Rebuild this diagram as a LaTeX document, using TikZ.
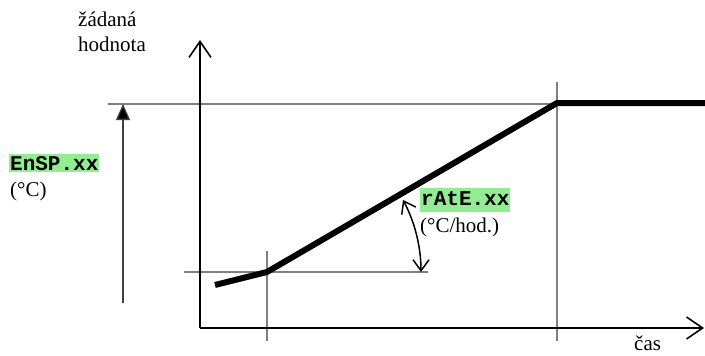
\documentclass[tikz,border=0pt]{standalone}
\usepackage{fontspec}
\setmainfont{Liberation Serif}
\setmonofont{Liberation Mono}
\usetikzlibrary{arrows.meta}
\definecolor{lgreen}{RGB}{144,238,144}
\definecolor{guide}{RGB}{128,128,128}
\tikzset{
  guideline/.style={draw=guide, line width=1.3pt},
  axisline/.style={draw=black, line width=1.8pt, -{Straight Barb[length=16pt,width=22pt,line width=1.6pt]}},
  ramp/.style={draw=black, line width=6pt, line join=bevel},
  lbl/.style={inner sep=0pt, anchor=base west, font=\fontsize{21}{24}\selectfont},
  code/.style={inner xsep=1pt, inner ysep=0pt, anchor=base west, fill=lgreen, font=\fontsize{21}{24}\selectfont\ttfamily\bfseries},
  anglearrow/.style={draw=black, line width=1.5pt, {Straight Barb[length=11pt,width=16pt,line width=1.5pt]}-{Straight Barb[length=11pt,width=16pt,line width=1.5pt]}}
}
\begin{document}
\begin{tikzpicture}[x=1pt,y=-1pt]
\useasboundingbox (0,0) rectangle (705,356);
% coordinates
\coordinate (O) at (200,328);
\coordinate (ytip) at (200,40);
\coordinate (xtip) at (704,328);
\coordinate (k1) at (267,272);
\coordinate (k2) at (557,103);
\coordinate (rstart) at (215,285);
\coordinate (rend) at (705,103);
% guide lines
\coordinate (h1a) at (108,104);
\coordinate (h1b) at (705,104);
\coordinate (h2a) at (184,272);
\coordinate (h2b) at (428,272);
\coordinate (v1a) at (267,251);
\coordinate (v1b) at (267,341);
\coordinate (v2a) at (557,82);
\coordinate (v2b) at (557,341);
\draw[guideline] (h1a) -- (h1b);
\draw[guideline] (h2a) -- (h2b);
\draw[guideline] (v1a) -- (v1b);
\draw[guideline] (v2a) -- (v2b);
% axes
\draw[axisline] (O) -- (ytip);
\draw[axisline] (O) -- (xtip);
% ramp
\draw[ramp] (rstart) -- (k1) -- (k2) -- (rend);
% range arrow
\coordinate (la) at (123,303);
\coordinate (lb) at (123,104);
\draw[draw=black!75, line width=1.3pt, -{Triangle[length=16pt,width=14pt,fill=black]}] (la) -- (lb);
% angle arrow
\coordinate (aa) at (403,200);
\coordinate (ab) at (421,272);
\draw[anglearrow] (aa) .. controls (414.8,222) and (421,246.8) .. (ab);
% labels
\node[lbl] (ylab1) at (78,27) {žádaná};
\node[lbl] (ylab2) at (78,51) {hodnota};
\node[code, text height=16pt, text depth=2pt] (ensp) at (9,170) {EnSP.xx};
\node[lbl] (degc) at (10,196) {(°C)};
\node[code, text height=17pt, text depth=7pt] (rate) at (420,205) {rAtE.xx};
\node[lbl] (ratelab) at (420,232) {(°C/hod.)};
\node[lbl] (cas) at (634,350) {čas};
\end{tikzpicture}
\end{document}
